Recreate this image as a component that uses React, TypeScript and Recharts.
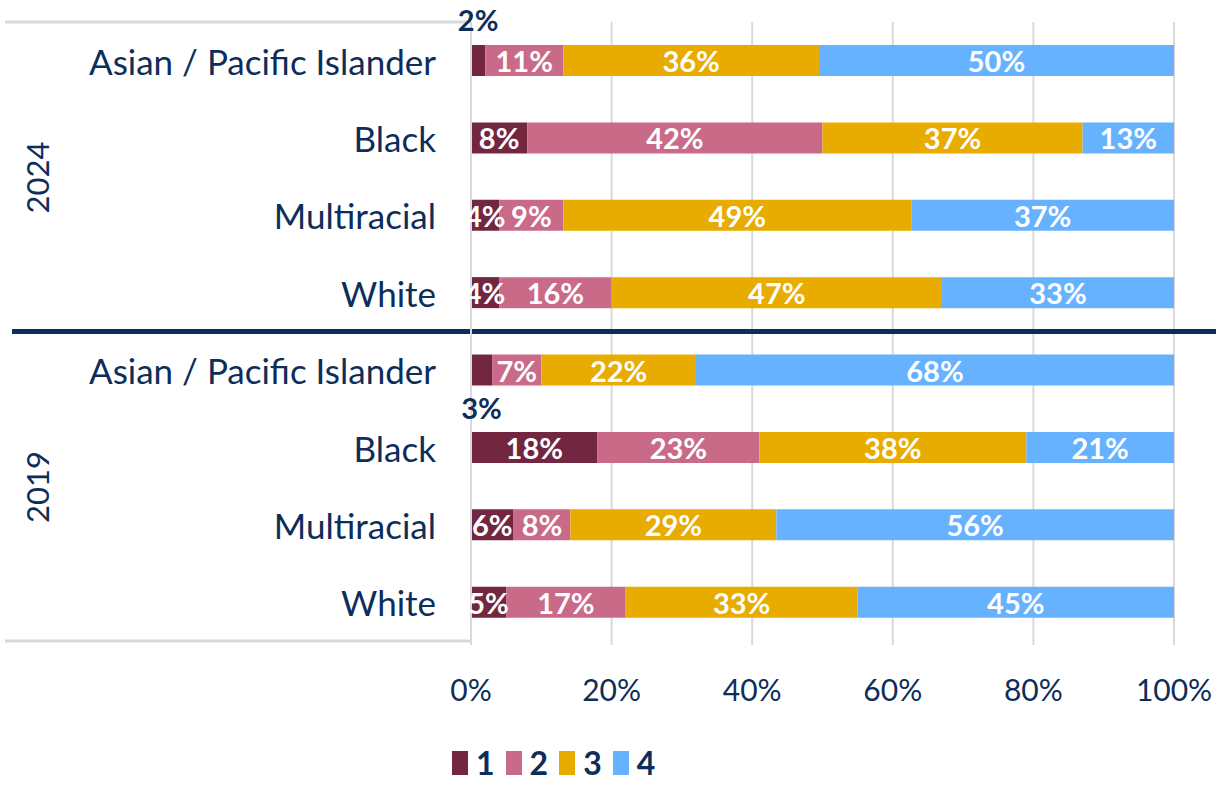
import { BarChart, Bar, XAxis, YAxis, CartesianGrid, LabelList, Legend, ReferenceLine } from 'recharts'

const years = ['2024', '2019']
const races = ['Asian / Pacific Islander', 'Black', 'Multiracial', 'White']

// share of students at each level, rows: 2024 (4 races) then 2019 (4 races)
const level1 = [2, 8, 4, 4, 3, 18, 6, 5]
const level2 = [11, 42, 9, 16, 7, 23, 8, 17]
const level3 = [36, 37, 49, 47, 22, 38, 29, 33]
const level4 = [50, 13, 37, 33, 68, 21, 56, 45]

const xTicks = [0, 0.2, 0.4, 0.6, 0.8, 1]

const NAVY = '#0d2d5a'
const GRID = '#d9d9d9'
const FONT = 'Lato, "Open Sans", sans-serif'

const series = [
	{ key: 'l1', name: '1', color: '#722640', values: level1 },
	{ key: 'l2', name: '2', color: '#c96a88', values: level2 },
	{ key: 'l3', name: '3', color: '#e8ab00', values: level3 },
	{ key: 'l4', name: '4', color: '#66b2ff', values: level4 },
]

const data = years.flatMap((year, yi) =>
	races.map((race, ri) => {
		const i = yi * races.length + ri
		const row: Record<string, string | number> = { row: `${year}|${race}`, year, race }
		series.forEach((s) => (row[s.key] = s.values[i]))
		return row
	})
)

function RaceTick(props: any) {
	const { x, y, payload } = props
	const [year, race] = String(payload.value).split('|')
	return (
		<g>
			<text x={x} y={y} textAnchor="end" dominantBaseline="central" fill={NAVY} fontSize={35} fontFamily={FONT}>
				{race}
			</text>
			{race === 'Multiracial' && (
				<text
					x={37}
					y={y - 38}
					transform={`rotate(-90 37 ${y - 38})`}
					textAnchor="middle"
					dominantBaseline="central"
					fill={NAVY}
					fontSize={31}
					fontFamily={FONT}
				>
					{year}
				</text>
			)}
		</g>
	)
}

function SegmentLabel(props: any) {
	const { x, y, width, height, value, index } = props
	if (!value) return null
	const cx = x + width / 2
	let cy = y + height / 2
	let fill = '#fff'
	if (width < 24) {
		// too narrow, put the value outside the bar
		fill = NAVY
		cy = index < races.length ? y - 26 : y + height + 22
	}
	return (
		<text x={cx} y={cy} textAnchor="middle" dominantBaseline="central" fill={fill} fontSize={29} fontWeight={700} fontFamily={FONT}>
			{value}%
		</text>
	)
}

function LegendContent() {
	return (
		<div style={{ display: 'flex', alignItems: 'center', paddingLeft: 452, paddingTop: 24, fontFamily: FONT }}>
			{series.map((s) => (
				<div key={s.key} style={{ display: 'flex', alignItems: 'center', marginRight: 11 }}>
					<span style={{ width: 16, height: 24, background: s.color, display: 'inline-block', marginRight: 8 }} />
					<span style={{ color: NAVY, fontSize: 32, fontWeight: 700, lineHeight: '36px' }}>{s.name}</span>
				</div>
			))}
		</div>
	)
}

export default function App() {
	return (
		<div style={{ width: 1216, height: 785 }}>
			<style>{'body{margin:0}'}</style>
			<BarChart
				width={1216}
				height={785}
				data={data}
				layout="vertical"
				stackOffset="expand"
				margin={{ top: 22, right: 42, bottom: 0, left: 0 }}
			>
				<CartesianGrid horizontal={false} stroke={GRID} strokeWidth={2} />
				<XAxis
					type="number"
					domain={[0, 1]}
					ticks={xTicks}
					tickFormatter={(v) => `${Math.round(v * 100)}%`}
					axisLine={false}
					tickLine={{ stroke: GRID, strokeWidth: 2 }}
					tickSize={4}
					tickMargin={35}
					height={80}
					tick={{ fill: NAVY, fontSize: 30, fontFamily: FONT }}
				/>
				<YAxis
					type="category"
					dataKey="row"
					width={471}
					axisLine={{ stroke: GRID, strokeWidth: 2 }}
					tickLine={false}
					tickMargin={29}
					tick={<RaceTick />}
					interval={0}
				/>
				<ReferenceLine
					y={`${years[0]}|${races[0]}`}
					position="start"
					shape={(p: any) => <line x1={5} x2={p.x1} y1={p.y1} y2={p.y1} stroke={GRID} strokeWidth={3} />}
				/>
				<ReferenceLine
					y={`${years[1]}|${races[3]}`}
					position="end"
					shape={(p: any) => <line x1={5} x2={p.x1} y1={p.y1} y2={p.y1} stroke={GRID} strokeWidth={3} />}
				/>
				{series.map((s) => (
					<Bar key={s.key} dataKey={s.key} name={s.name} stackId="a" fill={s.color} barSize={31} isAnimationActive={false}>
						<LabelList dataKey={s.key} content={<SegmentLabel />} />
					</Bar>
				))}
				<ReferenceLine
					y={`${years[0]}|${races[3]}`}
					position="end"
					shape={(p: any) => <line x1={12} x2={1216} y1={p.y1} y2={p.y1} stroke={NAVY} strokeWidth={5} />}
				/>
				<Legend verticalAlign="bottom" height={64} content={<LegendContent />} />
			</BarChart>
		</div>
	)
}
